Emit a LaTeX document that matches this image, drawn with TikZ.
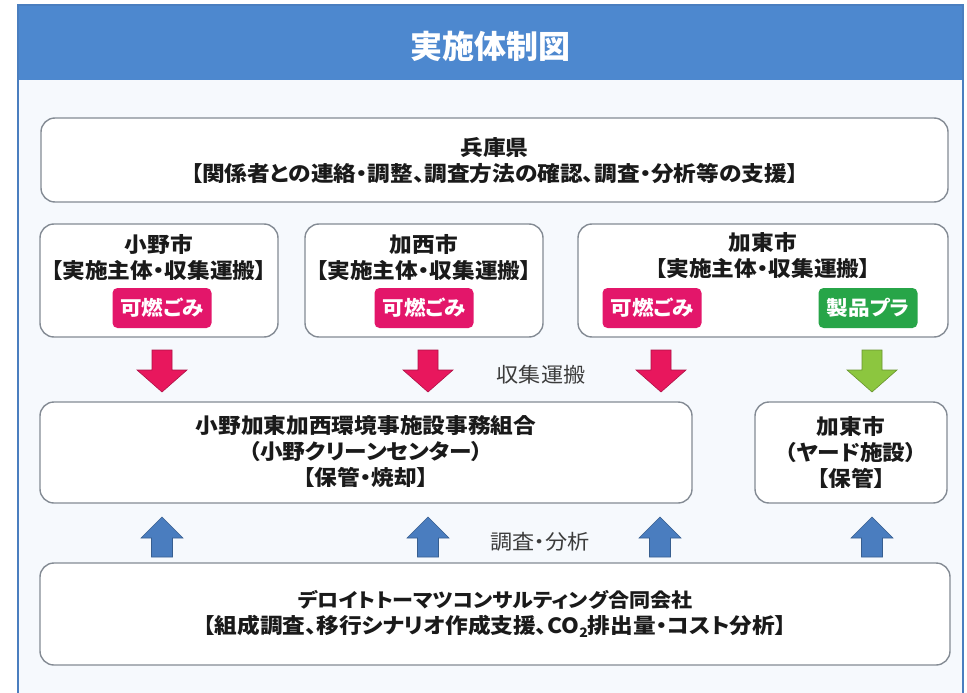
\documentclass[tikz,border=0pt]{standalone}
\usepackage{fontspec}
\newfontfamily\jp{Noto Sans CJK JP}
\newfontfamily\jpp[CharacterWidth=AlternateProportional, FakeStretch=1.08]{Noto Sans CJK JP}
\definecolor{hdrblue}{HTML}{4D88CF}
\definecolor{frameblue}{HTML}{4A7EBF}
\definecolor{bgtint}{HTML}{F6F9FD}
\definecolor{boxgray}{HTML}{848B94}
\definecolor{tagpink}{HTML}{E3166A}
\definecolor{taggreen}{HTML}{27A548}
\definecolor{arrred}{HTML}{E8175D}
\definecolor{arrgreen}{HTML}{8CC63F}
\definecolor{arrblue}{HTML}{4A7DBF}
\definecolor{txtdark}{HTML}{1A1A1A}
\definecolor{notegray}{HTML}{3C3C3C}
\newcommand\dnarr[2]{\filldraw[fill=#2, draw=#2!75!black, line width=0.6pt] (#1-10,350) -- (#1+10,350) -- (#1+10,370) -- (#1+25,370) -- (#1,392) -- (#1-25,370) -- (#1-10,370) -- cycle;}
\newcommand\uparr[1]{\filldraw[fill=arrblue, draw=arrblue!75!black, line width=0.6pt] (#1-10.5,557) -- (#1+10.5,557) -- (#1+10.5,538) -- (#1+21,538) -- (#1,517) -- (#1-21,538) -- (#1-10.5,538) -- cycle;}
\begin{document}
\begin{tikzpicture}[x=1pt,y=-1pt,
  panel/.style={draw=boxgray, line width=1.4pt, rounded corners=14pt, fill=white, inner sep=0pt},
  body/.style={font=\jpp\bfseries\fontsize{21}{26}\selectfont, text=txtdark, align=center, inner sep=0pt},
  tagbox/.style={rounded corners=5pt, text=white, font=\jpp\bfseries\fontsize{20}{20}\selectfont, minimum width=99pt, minimum height=40pt, inner sep=0pt},
  note/.style={font=\jpp\fontsize{20.5}{20.5}\selectfont, text=notegray, inner sep=0pt}]
\useasboundingbox (0,0) rectangle (967,693);
\fill[white] (0,0) rectangle (967,693);
\fill[bgtint] (18,5) rectangle (963,710);
\fill[hdrblue] (18,5) rectangle (963,80);
\draw[frameblue, line width=2.5pt] (18,5) rectangle (963,710);
\node[font=\jp\bfseries\fontsize{32}{32}\selectfont, text=white] (title) at (490,46) {実施体制図};

% panels
\node[panel, minimum width=907pt, minimum height=84pt] (pref) at (494.5,160) {};
\node[panel, minimum width=238pt, minimum height=113pt] (ono) at (159,280.5) {};
\node[panel, minimum width=238pt, minimum height=113pt] (kasai) at (424,280.5) {};
\node[panel, minimum width=370pt, minimum height=113pt] (kato) at (763,280.5) {};
\node[panel, minimum width=652pt, minimum height=101pt] (union) at (366,452.5) {};
\node[panel, minimum width=192pt, minimum height=101pt] (yard) at (851,452.5) {};
\node[panel, minimum width=910pt, minimum height=102pt] (dt) at (495,614) {};

% texts
\node[body] (preftxt) at (494.5,161) {兵庫県\\【関係者との連絡・調整、調査方法の確認、調査・分析等の支援】};
\node[body] (onotxt) at (159,258) {小野市\\【実施主体・収集運搬】};
\node[body] (kasaitxt) at (424,258) {加西市\\【実施主体・収集運搬】};
\node[body] (katotxt) at (763,256) {加東市\\【実施主体・収集運搬】};
\node[body] (uniontxt) at (366,452) {小野加東加西環境事施設事務組合\\（小野クリーンセンター）\\【保管・焼却】};
\node[body] (yardtxt) at (851,452) {加東市\\（ヤード施設）\\【保管】};
\node[body] (dttxt) at (495,614) {{\fontsize{19.5}{26}\selectfont デロイトトーマツコンサルティング合同会社}\\【組成調査、移行シナリオ作成支援、CO\raisebox{-4pt}{\fontsize{13}{13}\selectfont 2}排出量・コスト分析】};

% tags
\node[tagbox, fill=tagpink] (tag1) at (162,308) {可燃ごみ};
\node[tagbox, fill=tagpink] (tag2) at (424,308) {可燃ごみ};
\node[tagbox, fill=tagpink] (tag3) at (652,308) {可燃ごみ};
\node[tagbox, fill=taggreen] (tag4) at (868,308) {製品プラ};

% arrows
\dnarr{162}{arrred}
\dnarr{428}{arrred}
\dnarr{661}{arrred}
\dnarr{872}{arrgreen}
\uparr{162}
\uparr{428}
\uparr{660}
\uparr{872}

\node[note] (lbl1) at (541,375) {収集運搬};
\node[note] (lbl2) at (540,542) {調査・分析};
\end{tikzpicture}
\end{document}
